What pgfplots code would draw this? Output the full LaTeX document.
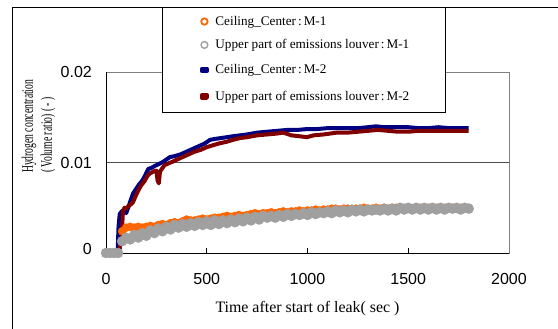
\documentclass[border=0pt]{standalone}
\usepackage{pgfplots}
\pgfplotsset{compat=1.18}
\usepackage{fontspec}
\setmainfont{Liberation Serif}
\newfontfamily\arialf{Liberation Sans}
\definecolor{mOrange}{RGB}{255,102,0}
\definecolor{mGray}{RGB}{160,160,160}
\definecolor{mBlue}{RGB}{0,0,128}
\definecolor{mRed}{RGB}{128,0,0}
\definecolor{frameGray}{RGB}{128,128,128}
\newcommand{\lgtext}[1]{\makebox[230bp][l]{#1}}
\begin{document}
\begin{tikzpicture}
\begin{axis}[
  at={(106bp,-253bp)}, anchor=south west,
  scale only axis, width=403bp, height=181bp,
  xmin=0, xmax=2000, ymin=0, ymax=0.02,
  clip=false,
  xtick={0,500,1000,1500,2000},
  ytick={0,0.01,0.02},
  yticklabels={\raisebox{8bp}{0},0.01,0.02},
  scaled y ticks=false,
  /pgf/number format/1000 sep={},
  /pgf/number format/assume math mode=true,
  axis line style={draw=frameGray, line width=0.9bp},
  tick align=inside,
  major tick length=5bp,
  xtick style={draw=black, line width=0.8bp},
  ytick style={draw=none},
  ymajorgrids,
  major grid style={draw=black!70, line width=0.8bp},
  ticklabel style={font=\arialf\fontsize{16bp}{19bp}\selectfont},
  xticklabel style={anchor=base, yshift=-31bp},
  yticklabel style={anchor=east, inner sep=0pt, xshift=-14bp},
  xlabel={Time after start of leak( sec )},
  xlabel style={font=\fontsize{15.9bp}{19bp}\selectfont, at={(axis description cs:0.5,0)}, anchor=base, yshift=-59bp, inner sep=0pt},
  legend cell align=left,
  legend style={at={(axis description cs:0.139,1.359)}, anchor=north west, draw=black, line width=0.8bp, fill=white,
    inner xsep=0pt, inner ysep=2.4bp, row sep=0pt,
    nodes={inner sep=0pt, minimum height=22.6bp},
    font=\fontsize{13.2bp}{15bp}\selectfont},
]
\addplot[only marks, mark=*, mark size=4bp, mOrange, mark options={draw=mOrange, fill=mOrange},
  legend image code/.code={\path (0bp,-11.3bp) (49bp,11.3bp); \draw[mOrange, line width=1.8bp] (40bp,0bp) circle[radius=3.2bp];}]
coordinates {(0,0)(20,0)(40,0)(60,0)(80,0.0024)(100,0.0028)(120,0.0029)(140,0.0028)(160,0.0029)(180,0.0028)(200,0.0029)(220,0.0030)(240,0.0029)(260,0.0031)(280,0.0032)(300,0.0031)(320,0.0033)(340,0.0034)(360,0.0033)(380,0.0035)(400,0.0037)(420,0.0036)(440,0.0036)(460,0.0037)(480,0.0038)(500,0.0037)(520,0.0038)(540,0.0039)(560,0.0039)(580,0.0040)(600,0.0041)(620,0.0040)(640,0.0041)(660,0.0042)(680,0.0041)(700,0.0042)(720,0.0043)(740,0.0044)(760,0.0043)(780,0.0044)(800,0.0044)(820,0.0045)(840,0.0044)(860,0.0045)(880,0.0046)(900,0.0045)(920,0.0046)(940,0.0046)(960,0.0047)(980,0.0046)(1000,0.0047)(1020,0.0047)(1040,0.0048)(1060,0.0047)(1080,0.0048)(1100,0.0048)(1120,0.0049)(1140,0.0049)(1160,0.0048)(1180,0.0049)(1200,0.0049)(1220,0.0048)(1240,0.0049)(1260,0.0049)(1280,0.0050)(1300,0.0049)(1320,0.0049)(1340,0.0050)(1360,0.0049)(1380,0.0050)(1400,0.0049)(1420,0.0050)(1440,0.0050)(1460,0.0049)(1480,0.0050)(1500,0.0050)(1520,0.0049)(1540,0.0050)(1560,0.0050)(1580,0.0050)(1600,0.0050)(1620,0.0049)(1640,0.0050)(1660,0.0050)(1680,0.0050)(1700,0.0050)(1720,0.0050)(1740,0.0049)(1760,0.0050)(1780,0.0050)(1800,0.0050)};
\addlegendentry{\lgtext{Ceiling\_Center\hspace{2bp}:\hspace{2bp}M-1}}
\addplot[only marks, mark=*, mark size=5bp, mGray, mark options={draw=mGray, fill=mGray},
  legend image code/.code={\path (0bp,-11.3bp) (49bp,11.3bp); \draw[mGray, line width=1.4bp] (40bp,0bp) circle[radius=3.4bp];}]
coordinates {(0,0)(20,0)(40,0)(60,0)(80,0.0013)(100,0.0017)(120,0.0015)(140,0.0020)(160,0.0017)(180,0.0022)(200,0.0019)(220,0.0025)(240,0.0022)(260,0.0027)(280,0.0024)(300,0.0029)(320,0.0026)(340,0.0031)(360,0.0028)(380,0.0032)(400,0.0029)(420,0.0033)(440,0.0030)(460,0.0034)(480,0.0031)(500,0.0035)(520,0.0031)(540,0.0036)(560,0.0032)(580,0.0036)(600,0.0033)(620,0.0037)(640,0.0034)(660,0.0038)(680,0.0035)(700,0.0039)(720,0.0036)(740,0.0040)(760,0.0037)(780,0.0041)(800,0.0039)(820,0.0041)(840,0.0039)(860,0.0042)(880,0.0040)(900,0.0043)(920,0.0041)(940,0.0043)(960,0.0042)(980,0.0044)(1000,0.0042)(1020,0.0045)(1040,0.0043)(1060,0.0045)(1080,0.0044)(1100,0.0046)(1120,0.0044)(1140,0.0047)(1160,0.0045)(1180,0.0047)(1200,0.0045)(1220,0.0048)(1240,0.0046)(1260,0.0048)(1280,0.0046)(1300,0.0048)(1320,0.0047)(1340,0.0048)(1360,0.0047)(1380,0.0049)(1400,0.0047)(1420,0.0049)(1440,0.0047)(1460,0.0050)(1480,0.0048)(1500,0.0050)(1520,0.0048)(1540,0.0050)(1560,0.0048)(1580,0.0050)(1600,0.0048)(1620,0.0050)(1640,0.0048)(1660,0.0050)(1680,0.0048)(1700,0.0050)(1720,0.0049)(1740,0.0050)(1760,0.0048)(1780,0.0050)(1800,0.0049)};
\addlegendentry{\lgtext{Upper part of emissions louver\hspace{2bp}:\hspace{2bp}M-1}}
\addplot[mBlue, line width=4bp, line join=round,
  legend image code/.code={\path (0bp,-11.3bp) (49bp,11.3bp); \fill[mBlue] (37.5bp,-1.3bp) rectangle (42.5bp,1.3bp);}]
coordinates {(0,0)(50,0)(58,0.0002)(62,0.0028)(68,0.0043)(78,0.0046)(90,0.0048)(100,0.0044)(110,0.0050)(125,0.0060)(135,0.0066)(150,0.0071)(165,0.0076)(180,0.0080)(195,0.0086)(210,0.0093)(225,0.0094)(240,0.0096)(260,0.0098)(285,0.0101)(317,0.0106)(340,0.0107)(370,0.0109)(400,0.0112)(430,0.0115)(460,0.0118)(490,0.0121)(516,0.0125)(540,0.0126)(570,0.0127)(600,0.0128)(630,0.0129)(665,0.0130)(700,0.0131)(750,0.0133)(800,0.0134)(850,0.0135)(900,0.0136)(950,0.0136)(1000,0.0137)(1050,0.0137)(1100,0.0138)(1150,0.0138)(1200,0.0138)(1250,0.0138)(1300,0.0139)(1340,0.0140)(1380,0.0139)(1450,0.0139)(1500,0.0139)(1550,0.0138)(1600,0.0138)(1650,0.0139)(1700,0.0138)(1750,0.0138)(1800,0.0138)};
\addlegendentry{\lgtext{Ceiling\_Center\hspace{2bp}:\hspace{2bp}M-2}}
\addplot[mRed, line width=4bp, line join=round,
  legend image code/.code={\path (0bp,-11.3bp) (49bp,11.3bp); \fill[mRed] (37.5bp,-1.3bp) rectangle (42.5bp,1.3bp);}]
coordinates {(0,0)(60,0)(68,0)(70,0.0012)(76,0.0014)(80,0.0028)(84,0.0046)(92,0.0050)(100,0.0049)(112,0.0052)(125,0.0054)(134,0.0056)(145,0.0062)(160,0.0069)(175,0.0075)(190,0.0079)(205,0.0085)(218,0.0088)(235,0.0090)(250,0.0091)(256,0.0080)(262,0.0077)(268,0.0090)(290,0.0097)(310,0.0099)(332,0.0101)(360,0.0104)(400,0.0108)(440,0.0112)(470,0.0114)(501,0.0117)(530,0.0119)(560,0.0121)(600,0.0123)(630,0.0125)(665,0.0127)(700,0.0128)(750,0.0130)(800,0.0131)(848,0.0132)(880,0.0133)(920,0.0130)(960,0.0129)(997,0.0128)(1030,0.0130)(1080,0.0131)(1146,0.0133)(1200,0.0133)(1250,0.0134)(1300,0.0135)(1350,0.0136)(1400,0.0135)(1450,0.0134)(1500,0.0134)(1550,0.0135)(1600,0.0135)(1650,0.0135)(1700,0.0135)(1750,0.0135)(1800,0.0135)};
\addlegendentry{\lgtext{Upper part of emissions louver\hspace{2bp}:\hspace{2bp}M-2}}
\draw[black, line width=0.9bp] (rel axis cs:0,1) -- (rel axis cs:0,0) -- (rel axis cs:1,0);
\end{axis}
\node[rotate=90, anchor=west, inner sep=0pt, font=\fontsize{16bp}{19bp}\selectfont] at (29bp,-173bp)
  {\scalebox{0.6}[1]{Hydrogen concentration}};
\node[rotate=90, anchor=west, inner sep=0pt, font=\fontsize{16bp}{19bp}\selectfont] at (48bp,-173bp)
  {\scalebox{0.6}[1]{( Volume ratio) ( - )}};
\draw[black, line width=0.9bp] (12bp,-7bp) rectangle (700bp,-500bp);
\pgfresetboundingbox
\path[use as bounding box] (0bp,0bp) rectangle (558bp,-329bp);
\end{tikzpicture}
\end{document}
